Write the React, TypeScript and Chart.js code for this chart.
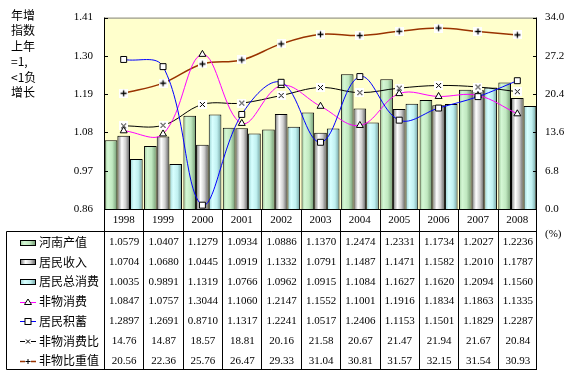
import React, { useEffect, useRef } from "react";
import { Chart, registerables } from "chart.js";

Chart.register(...registerables);

const YEARS = ["1998", "1999", "2000", "2001", "2002", "2003", "2004", "2005", "2006", "2007", "2008"];
const HENAN = [1.0579, 1.0407, 1.1279, 1.0934, 1.0886, 1.137, 1.2474, 1.2331, 1.1734, 1.2027, 1.2236];
const INCOME = [1.0704, 1.068, 1.0445, 1.0919, 1.1332, 1.0791, 1.1487, 1.1471, 1.1582, 1.201, 1.1787];
const CONSUMPTION = [1.0035, 0.9891, 1.1319, 1.0766, 1.0962, 1.0915, 1.1084, 1.1627, 1.162, 1.2094, 1.156];
const NON_MATERIAL = [1.0847, 1.0757, 1.3044, 1.106, 1.2147, 1.1552, 1.1001, 1.1916, 1.1834, 1.1863, 1.1335];
const SAVINGS = [1.2897, 1.2691, 0.871, 1.1317, 1.2241, 1.0517, 1.2406, 1.1153, 1.1501, 1.1829, 1.2287];
const NON_MAT_RATIO = [14.76, 14.87, 18.57, 18.81, 20.16, 21.58, 20.67, 21.47, 21.94, 21.67, 20.84];
const NON_MAT_SHARE = [20.56, 22.36, 25.76, 26.47, 29.33, 31.04, 30.81, 31.57, 32.15, 31.54, 30.93];
const LEFT_TICKS = [0.86, 0.97, 1.08, 1.19, 1.3, 1.41];
const RIGHT_TICKS = [0, 6.8, 13.6, 20.4, 27.2, 34.0];
const TITLE_LINES = ["年增", "指数", "上年", "=1,", "<1负", "增长"];
const NAMES = ["河南产值", "居民收入", "居民总消费", "非物消费", "居民积蓄", "非物消费比", "非物比重值"];

const CAT_PCT = 0.965;
const SERIF = "'Liberation Serif', 'Times New Roman', serif";
const CJK = "'Noto Sans CJK SC', sans-serif";

const GREEN_STOPS: [number, string][] = [[0, "#9cc89c"], [0.25, "#d4f7d4"], [0.6, "#c0e8c0"], [1, "#6e966e"]];
const GREY_STOPS: [number, string][] = [[0, "#707070"], [0.35, "#ffffff"], [0.65, "#d0d0d0"], [1, "#5a5a5a"]];
const CYAN_STOPS: [number, string][] = [[0, "#98d0d0"], [0.3, "#d8ffff"], [0.65, "#c0f0f0"], [1, "#6fa0a0"]];
const BAR_STOPS = [GREEN_STOPS, GREY_STOPS, CYAN_STOPS];

function grad(ctx: CanvasRenderingContext2D, x0: number, x1: number, stops: [number, string][]) {
  const g = ctx.createLinearGradient(x0, 0, x1, 0);
  stops.forEach(([o, c]) => g.addColorStop(o, c));
  return g;
}

function barFill(di: number) {
  return (c: any) => {
    const chart = c.chart;
    const xs = chart.scales && chart.scales.x;
    if (!xs || c.dataIndex === undefined || !chart.chartArea) return BAR_STOPS[di][1][1];
    const center = xs.getPixelForValue(c.dataIndex);
    const catW = (xs.width / YEARS.length) * CAT_PCT;
    const bw = catW / 3;
    const x0 = center - catW / 2 + di * bw;
    return grad(chart.ctx, x0, x0 + bw, BAR_STOPS[di]);
  };
}

function makeMarker(kind: string, size = 9, bg = true) {
  const c = document.createElement("canvas");
  c.width = size;
  c.height = size;
  const g = c.getContext("2d")!;
  if (bg) {
    g.fillStyle = "#ffffff";
    g.fillRect(0, 0, size, size);
  }
  g.strokeStyle = "#000000";
  g.lineWidth = 1;
  g.beginPath();
  const m = size / 2;
  if (kind === "x") {
    g.moveTo(2, 2);
    g.lineTo(size - 2, size - 2);
    g.moveTo(size - 2, 2);
    g.lineTo(2, size - 2);
  } else {
    g.lineWidth = 1.3;
    g.moveTo(m, 1.5);
    g.lineTo(m, size - 1.5);
    g.moveTo(1.5, m);
    g.lineTo(size - 1.5, m);
  }
  g.stroke();
  return c;
}

const tablePlugin = {
  id: "tablePlugin",
  beforeDatasetsDraw(chart: any) {
    const { ctx, chartArea: a } = chart;
    ctx.save();
    ctx.fillStyle = "#ffffcc";
    ctx.fillRect(a.left, a.top, a.right - a.left, a.bottom - a.top);
    ctx.restore();
  },
  afterDatasetsDraw(chart: any) {
    const { ctx, chartArea: a } = chart;
    const xs = chart.scales.x;
    const yl = chart.scales.yL;
    const yr = chart.scales.yR;
    ctx.save();
    // plot borders
    ctx.lineWidth = 1;
    ctx.strokeStyle = "#808080";
    ctx.beginPath();
    ctx.moveTo(a.left, a.top + 0.5);
    ctx.lineTo(a.right, a.top + 0.5);
    ctx.stroke();
    ctx.strokeStyle = "#000000";
    ctx.beginPath();
    ctx.moveTo(a.left + 0.5, a.top);
    ctx.lineTo(a.left + 0.5, a.bottom);
    ctx.moveTo(a.right - 0.5, a.top);
    ctx.lineTo(a.right - 0.5, a.bottom);
    ctx.moveTo(a.left, a.bottom + 0.5);
    ctx.lineTo(a.right, a.bottom + 0.5);
    // inner tick marks
    LEFT_TICKS.forEach((v) => {
      const y = Math.round(yl.getPixelForValue(v)) + 0.5;
      ctx.moveTo(a.left, y);
      ctx.lineTo(a.left + 4, y);
    });
    RIGHT_TICKS.forEach((v) => {
      const y = Math.round(yr.getPixelForValue(v)) + 0.5;
      ctx.moveTo(a.right - 4, y);
      ctx.lineTo(a.right, y);
    });
    ctx.stroke();
    ctx.restore();
  },
  afterDraw(chart: any) {
    const { ctx, chartArea: a } = chart;
    const xs = chart.scales.x;
    const catW = xs.width / YEARS.length;
    const tableTop = a.bottom;
    const headBottom = 231.5;
    const rowY0 = 242.5;
    const rowH = 19.7;
    const tableBottom = 369.5;
    const tableLeft = 6.5;
    ctx.save();
    ctx.strokeStyle = "#000000";
    ctx.lineWidth = 1;
    ctx.beginPath();
    for (let i = 0; i <= YEARS.length; i++) {
      const x = Math.round(xs.getPixelForValue(0) - catW / 2 + i * catW) + 0.5;
      const xx = i === YEARS.length ? a.right - 0.5 : i === 0 ? a.left + 0.5 : x;
      ctx.moveTo(xx, tableTop);
      ctx.lineTo(xx, tableBottom);
    }
    ctx.moveTo(tableLeft, headBottom);
    ctx.lineTo(a.right, headBottom);
    ctx.moveTo(tableLeft, tableBottom);
    ctx.lineTo(a.right, tableBottom);
    ctx.moveTo(tableLeft, headBottom);
    ctx.lineTo(tableLeft, tableBottom);
    ctx.stroke();

    // year headers
    ctx.fillStyle = "#000000";
    ctx.font = `11px ${SERIF}`;
    ctx.textAlign = "center";
    ctx.textBaseline = "middle";
    YEARS.forEach((y, i) => {
      ctx.fillText(y, xs.getPixelForValue(i), 220.5);
    });

    // values
    const rows = [HENAN, INCOME, CONSUMPTION, NON_MATERIAL, SAVINGS, NON_MAT_RATIO, NON_MAT_SHARE];
    rows.forEach((arr, r) => {
      const y = rowY0 + r * rowH;
      arr.forEach((v, i) => {
        ctx.fillText(r < 5 ? v.toFixed(4) : v.toFixed(2), xs.getPixelForValue(i) + 0.5, y);
      });
    });

    // legend keys & names
    const kx0 = 20;
    const kx1 = 36;
    rows.forEach((_, r) => {
      const y = rowY0 + r * rowH;
      if (r < 3) {
        ctx.fillStyle = grad(ctx, kx0, kx1, BAR_STOPS[r]);
        ctx.fillRect(kx0, Math.round(y - 3), kx1 - kx0, 6);
        ctx.strokeStyle = "#000000";
        ctx.strokeRect(kx0 + 0.5, Math.round(y - 3) + 0.5, kx1 - kx0 - 1, 5);
      } else {
        const colors = ["#ff00ff", "#0000ff", "#000000", "#993300"];
        const ly = Math.round(y) + 0.5;
        ctx.strokeStyle = colors[r - 3];
        ctx.lineWidth = r === 6 ? 1.5 : 1;
        ctx.beginPath();
        if (r >= 5) {
          ctx.moveTo(kx0, ly);
          ctx.lineTo(kx0 + 5, ly);
          ctx.moveTo(kx1 - 5, ly);
          ctx.lineTo(kx1, ly);
        } else {
          ctx.moveTo(kx0, ly);
          ctx.lineTo(kx1, ly);
        }
        ctx.stroke();
        ctx.lineWidth = 1;
        ctx.strokeStyle = "#000000";
        ctx.fillStyle = "#ffffff";
        const cx = 28;
        if (r === 3) {
          ctx.beginPath();
          ctx.moveTo(cx, ly - 3.5);
          ctx.lineTo(cx + 3.5, ly + 2);
          ctx.lineTo(cx - 3.5, ly + 2);
          ctx.closePath();
          ctx.fill();
          ctx.stroke();
        } else if (r === 4) {
          ctx.fillRect(cx - 3, ly - 3, 6, 6);
          ctx.strokeRect(cx - 3, ly - 3, 6, 6);
        } else if (r === 5) {
          ctx.beginPath();
          ctx.moveTo(cx - 2, ly - 2);
          ctx.lineTo(cx + 2, ly + 2);
          ctx.moveTo(cx + 2, ly - 2);
          ctx.lineTo(cx - 2, ly + 2);
          ctx.stroke();
        } else {
          ctx.beginPath();
          ctx.moveTo(cx - 2.5, ly);
          ctx.lineTo(cx + 2.5, ly);
          ctx.moveTo(cx, ly - 2.5);
          ctx.lineTo(cx, ly + 2.5);
          ctx.stroke();
        }
      }
      ctx.fillStyle = "#000000";
      ctx.font = `12px ${CJK}`;
      ctx.textAlign = "left";
      ctx.fillText(NAMES[r], 39, y);
    });

    // title
    ctx.font = `12px ${CJK}`;
    ctx.textAlign = "left";
    TITLE_LINES.forEach((t, i) => {
      ctx.fillText(t, 11, 15.5 + i * 15.4);
    });
    // (%)
    ctx.font = `11px ${SERIF}`;
    ctx.fillText("(%)", 545, 234);
    ctx.restore();
  },
};

export default function App() {
  const ref = useRef<HTMLCanvasElement>(null);
  useEffect(() => {
    const canvas = ref.current!;
    Chart.defaults.font.family = SERIF;
    Chart.defaults.font.size = 11;
    Chart.defaults.color = "#000000";
    const crossImg = makeMarker("x", 9);
    const plusImg = makeMarker("+", 9);
    const barDs = (label: string, data: number[], di: number) => ({
      type: "bar" as const,
      label,
      data,
      yAxisID: "yL",
      order: 2,
      backgroundColor: barFill(di),
      borderColor: "#000000",
      borderWidth: 1,
      borderSkipped: "bottom",
      categoryPercentage: CAT_PCT,
      barPercentage: 1,
    });
    const chart = new Chart(canvas, {
      type: "bar",
      data: {
        labels: YEARS,
        datasets: [
          {
            type: "line",
            label: NAMES[4],
            data: SAVINGS,
            yAxisID: "yL",
            order: 0,
            borderColor: "#0000ff",
            borderWidth: 1,
            tension: 0.38,
            pointStyle: "rect",
            pointRadius: 4.2,
            pointBackgroundColor: "#ffffff",
            pointBorderColor: "#000000",
            pointBorderWidth: 1,
          },
          {
            type: "line",
            label: NAMES[3],
            data: NON_MATERIAL,
            yAxisID: "yL",
            order: 0,
            borderColor: "#ff00ff",
            borderWidth: 1,
            tension: 0.38,
            pointStyle: "triangle",
            pointRadius: 4,
            pointBackgroundColor: "#ffffff",
            pointBorderColor: "#000000",
            pointBorderWidth: 1,
          },
          {
            type: "line",
            label: NAMES[5],
            data: NON_MAT_RATIO,
            yAxisID: "yR",
            order: 0,
            borderColor: "#000000",
            borderWidth: 1,
            tension: 0.38,
            pointStyle: crossImg,
            pointRadius: 4,
          },
          {
            type: "line",
            label: NAMES[6],
            data: NON_MAT_SHARE,
            yAxisID: "yR",
            order: 0,
            borderColor: "#993300",
            borderWidth: 1.5,
            tension: 0.38,
            pointStyle: plusImg,
            pointRadius: 4,
          },
          barDs(NAMES[0], HENAN, 0),
          barDs(NAMES[1], INCOME, 1),
          barDs(NAMES[2], CONSUMPTION, 2),
        ] as any,
      },
      options: {
        animation: false,
        responsive: true,
        maintainAspectRatio: false,
        layout: { padding: { left: 0, right: 0, top: 15, bottom: 166 } },
        plugins: {
          legend: { display: false },
          tooltip: { enabled: false },
          title: { display: false },
        },
        scales: {
          x: {
            type: "category",
            offset: true,
            display: false,
            grid: { display: false },
          },
          yL: {
            type: "linear",
            position: "left",
            min: 0.86,
            max: 1.41,
            grid: { display: false, drawTicks: false, tickLength: 0 },
            border: { display: false },
            ticks: {
              padding: 11,
              font: { family: SERIF, size: 11 },
              color: "#000000",
              callback: (v: any) => Number(v).toFixed(2),
            },
            afterBuildTicks: (s: any) => {
              s.ticks = LEFT_TICKS.map((v) => ({ value: v }));
            },
            afterFit: (s: any) => {
              s.width = 104;
            },
          },
          yR: {
            type: "linear",
            position: "right",
            min: 0,
            max: 34,
            grid: { display: false, drawTicks: false, tickLength: 0 },
            border: { display: false },
            ticks: {
              padding: 8,
              font: { family: SERIF, size: 11 },
              color: "#000000",
              callback: (v: any) => Number(v).toFixed(1),
            },
            afterBuildTicks: (s: any) => {
              s.ticks = RIGHT_TICKS.map((v) => ({ value: v }));
            },
            afterFit: (s: any) => {
              s.width = 40;
            },
          },
        },
      } as any,
      plugins: [tablePlugin],
    });
    return () => chart.destroy();
  }, []);
  return (
    <div style={{ position: "fixed", left: 0, top: 0, width: 577, height: 375, background: "#ffffff" }}>
      <canvas ref={ref} />
    </div>
  );
}
